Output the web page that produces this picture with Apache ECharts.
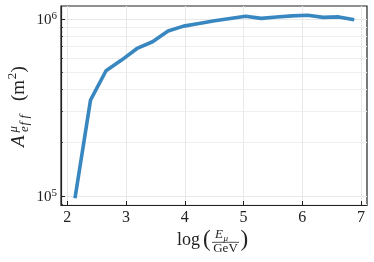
<!DOCTYPE html>
<html>
<head>
<meta charset="utf-8">
<script src="https://cdn.jsdelivr.net/npm/echarts@6/dist/echarts.min.js"></script>
<style>
html,body{margin:0;padding:0;background:#fff;}
#c{width:374px;height:262px;}
</style>
</head>
<body>
<div id="c"></div>
<script>
// Data
const logEnergy = [2.131, 2.395, 2.659, 2.923, 3.187, 3.451, 3.715, 3.979, 4.243, 4.507, 4.771, 5.035, 5.299, 5.563, 5.827, 6.091, 6.355, 6.619, 6.883];
const effArea = [9.7e4, 3.48e5, 5.10e5, 5.86e5, 6.82e5, 7.44e5, 8.55e5, 9.12e5, 9.43e5, 9.77e5, 1.006e6, 1.036e6, 1.009e6, 1.026e6, 1.042e6, 1.051e6, 1.022e6, 1.028e6, 9.91e5];
const xTicks = [2, 3, 4, 5, 6, 7];
const yMajorTicks = [1e5, 1e6];
const yMinorTicks = [9e4, 2e5, 3e5, 4e5, 5e5, 6e5, 7e5, 8e5, 9e5];

const SERIF = '"Liberation Serif", "DejaVu Serif", serif';
const chart = echarts.init(document.getElementById('c'), null, {renderer: 'canvas'});

const yMin = 8.89e4, yMax = 1.185e6;

function yLabel(v) {
  const e = Math.round(Math.log10(v));
  if (Math.abs(Math.log10(v) - e) > 1e-6) return '';
  return '{b|10}{s|' + e + '}';
}

const option = {
  animation: false,
  backgroundColor: '#fff',
  grid: {left: 61, right: 7, top: 6, bottom: 57, show: true, borderColor: '#222', borderWidth: 1.2, backgroundColor: 'transparent'},
  xAxis: {
    type: 'value', min: 1.893, max: 7.10,
    axisLine: {show: true, lineStyle: {color: '#222', width: 1.2}},
    axisTick: {show: true, inside: true, length: 4, customValues: xTicks, lineStyle: {color: '#222', width: 1}},
    axisLabel: {show: true, customValues: xTicks, margin: 5, fontFamily: SERIF, fontSize: 16, color: '#222'},
    splitLine: {show: true, lineStyle: {color: '#e8e8e8', width: 1}}
  },
  yAxis: [{
    type: 'log', logBase: 10, min: yMin, max: yMax,
    axisLine: {show: true, lineStyle: {color: '#222', width: 1.2}},
    axisTick: {show: true, inside: true, length: 4, customValues: yMajorTicks, lineStyle: {color: '#222', width: 1}},
    axisLabel: {show: true, customValues: yMajorTicks, margin: 4, formatter: yLabel,
      rich: {
        b: {fontFamily: SERIF, fontSize: 15, lineHeight: 17, color: '#222', verticalAlign: 'bottom'},
        s: {fontFamily: SERIF, fontSize: 11, lineHeight: 11, color: '#222', verticalAlign: 'top'}
      }},
    splitLine: {show: true, lineStyle: {color: '#e8e8e8', width: 1}}
  }, {
    type: 'log', logBase: 10, min: yMin, max: yMax, position: 'left',
    axisLine: {show: false},
    axisTick: {show: true, inside: true, length: 2, customValues: yMinorTicks, lineStyle: {color: '#222', width: 0.8}},
    axisLabel: {show: false},
    splitLine: {show: true, lineStyle: {color: '#efefef', width: 1}}
  }],
  series: [{
    type: 'line',
    data: logEnergy.map((x, i) => [x, effArea[i]]),
    yAxisIndex: 0,
    showSymbol: false,
    symbol: 'none',
    lineStyle: {color: '#3887c0', width: 3.6, cap: 'butt', join: 'round'},
    z: 5
  }],
  graphic: [
    {
      type: 'group', x: 24.5, y: 147, rotation: Math.PI / 2,
      children: [
        {type: 'text', x: 0, y: -5.3, style: {text: 'A', font: 'italic 19px ' + SERIF, fill: '#222', verticalAlign: 'middle', align: 'left'}},
        {type: 'text', x: 14.5, y: -11, style: {text: 'μ', font: 'italic 13px ' + SERIF, fill: '#222', verticalAlign: 'middle', align: 'left'}},
        {type: 'text', x: 15, y: 0, style: {text: 'e', font: 'italic 13px ' + SERIF, fill: '#222', verticalAlign: 'middle', align: 'left'}},
        {type: 'text', x: 21.5, y: 0, style: {text: 'f', font: 'italic 13px ' + SERIF, fill: '#222', verticalAlign: 'middle', align: 'left'}},
        {type: 'text', x: 28.5, y: 0, style: {text: 'f', font: 'italic 13px ' + SERIF, fill: '#222', verticalAlign: 'middle', align: 'left'}},
        {type: 'text', x: 46, y: -5.3, style: {text: '(m', font: '19px ' + SERIF, fill: '#222', verticalAlign: 'middle', align: 'left'}},
        {type: 'text', x: 67.8, y: -12, style: {text: '2', font: '13px ' + SERIF, fill: '#222', verticalAlign: 'middle', align: 'left'}},
        {type: 'text', x: 74.5, y: -5.3, style: {text: ')', font: '19px ' + SERIF, fill: '#222', verticalAlign: 'middle', align: 'left'}}
      ]
    },
    {type: 'text', x: 177, y: 240, style: {text: 'log', font: '18px ' + SERIF, fill: '#222', verticalAlign: 'middle', align: 'left'}},
    {type: 'text', x: 203, y: 240, style: {text: '(', font: '23px ' + SERIF, fill: '#222', verticalAlign: 'middle', align: 'left'}},
    {type: 'text', x: 215, y: 235, style: {text: 'E', font: 'italic 13px ' + SERIF, fill: '#222', verticalAlign: 'middle', align: 'left'}},
    {type: 'text', x: 223.5, y: 239, style: {text: 'μ', font: 'italic 9px ' + SERIF, fill: '#222', verticalAlign: 'middle', align: 'left'}},
    {type: 'line', shape: {x1: 212, y1: 242.3, x2: 239, y2: 242.3}, style: {stroke: '#222', lineWidth: 0.8}},
    {type: 'text', x: 225.5, y: 248.5, style: {text: 'GeV', font: '13px ' + SERIF, fill: '#222', verticalAlign: 'middle', align: 'center'}},
    {type: 'text', x: 240.5, y: 240, style: {text: ')', font: '23px ' + SERIF, fill: '#222', verticalAlign: 'middle', align: 'left'}}
  ]
};
chart.setOption(option);
</script>
</body>
</html>
